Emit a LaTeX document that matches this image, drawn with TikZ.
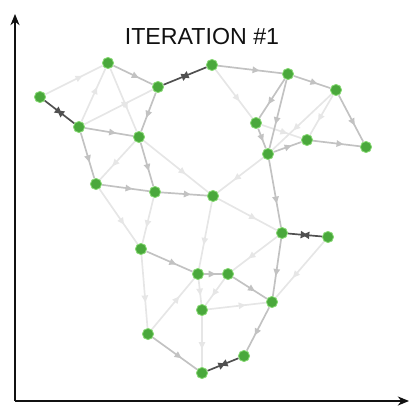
\documentclass[tikz,border=0pt]{standalone}
\usepackage{fontspec}
\setmainfont{Liberation Sans}
\usetikzlibrary{arrows.meta, decorations.markings}

\begin{document}
\begin{tikzpicture}[x=0.025cm, y=-0.025cm]
    % Define colours
    \definecolor{axisColour}{HTML}{111111}
    \definecolor{vertexFill}{HTML}{4AA83C}
    \definecolor{vertexBorder}{HTML}{86D873}
    \definecolor{faintEdge}{HTML}{E6E6E6}
    \definecolor{midEdge}{HTML}{C2C2C2}
    \definecolor{darkEdge}{HTML}{505050}

    % Define styles
    \tikzset{
        vertex/.style={circle, fill=vertexFill, draw=vertexBorder, line width=0.6pt,
            minimum size=0.28cm, inner sep=0pt},
        flow/.style={postaction={decorate}, decoration={markings,
            mark=at position 0.65 with {\arrow{Triangle[length=5pt,width=4.5pt]}}}},
        faintflow/.style={flow, draw=faintEdge, color=faintEdge, line width=1.2pt},
        midflow/.style={flow, draw=midEdge, color=midEdge, line width=1.2pt},
        darkflow/.style={draw=darkEdge, color=darkEdge, line width=1.2pt,
            postaction={decorate}, decoration={markings,
            mark=at position 0.42 with {\arrowreversed{Triangle[length=5pt,width=5pt]}},
            mark=at position 0.58 with {\arrow{Triangle[length=5pt,width=5pt]}}}}
    }

    % Fix picture size
    \useasboundingbox (0,0) rectangle (410,412);

    % Draw axes
    \coordinate (origin) at (15,401);
    \coordinate (yend) at (15,14);
    \coordinate (xend) at (409,401);
    \draw[axisColour, line width=1pt, -{Stealth[length=8pt,width=6.5pt]}] (origin) -- (yend);
    \draw[axisColour, line width=1pt, -{Stealth[length=8pt,width=6.5pt]}] (origin) -- (xend);

    % Title
    \node[font=\fontsize{16.5}{18}\selectfont, text=axisColour] (title) at (202,37) {ITERATION \#1};

    % Place the vertices
    \foreach \name/\x/\y in {a/108/63, b/40/97, c/158/87, d/212/65, e/288/74, f/336/90,
        g/79/127, h/139/137, i/256/123, j/307/140, k/268/154, l/366/147,
        m/96/184, n/155/192, o/213/196, p/282/233, q/328/237, r/141/249,
        s/198/274, t/228/274, u/272/302, v/202/310, w/148/334, x/244/356, y/202/373}
        \node[vertex] (\name) at (\x,\y) {};

    % Faint edges
    \foreach \from/\to in {b/a, g/a, g/c, a/h, h/m, d/i, f/k, i/j, k/o, h/o,
        o/p, o/s, p/t, q/u, m/r, n/r, r/w, s/v, t/v, v/u, v/y, w/s, f/j}
        \draw[faintflow] (\from) -- (\to);

    % Medium edges
    \foreach \from/\to in {a/c, e/f, g/h, c/h, h/n, m/n, g/m, n/o, e/i, e/k, f/l,
        i/k, k/j, j/l, k/p, p/u, t/u, u/x, w/y, r/s, s/t, d/e}
        \draw[midflow] (\from) -- (\to);

    % Dark edges
    \foreach \from/\to in {c/d, p/q, x/y, b/g}
        \draw[darkflow] (\from) -- (\to);

\end{tikzpicture}
\end{document}
